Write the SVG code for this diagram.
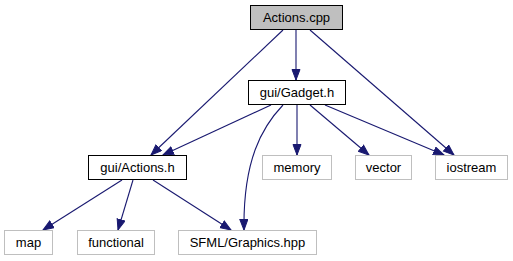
<svg xmlns="http://www.w3.org/2000/svg" width="513" height="261" viewBox="0 0 513 261">
  <style>
    .bg { fill: #ffffff; }
    .node rect { fill: #ffffff; stroke: #000000; stroke-width: 1; }
    .node.root rect { fill: #bfbfbf; }
    .node.ext rect { stroke: #bfbfbf; }
    .node text { font-family: "Liberation Sans", Arial, sans-serif; font-size: 13px; fill: #000000; text-anchor: middle; }
    .edge { fill: none; stroke: #191970; stroke-width: 1.1; marker-end: url(#arrow); }
  </style>
  <defs>
    <marker id="arrow" markerUnits="userSpaceOnUse" markerWidth="13" markerHeight="10" refX="11" refY="4.5" orient="auto">
      <path d="M0.5,0.5 L11,4.5 L0.5,8.5 Z" fill="#191970" stroke="#191970" stroke-width="1"/>
    </marker>
  </defs>
  <rect class="bg" x="0" y="0" width="513" height="261"/>

  <g id="edges">
    <path class="edge" d="M296,30 L296,80"/>
    <path class="edge" d="M283,30 L151,155"/>
    <path class="edge" d="M310,30 L454,155"/>
    <path class="edge" d="M271,105 L163,155"/>
    <path class="edge" d="M297,105 L297,155"/>
    <path class="edge" d="M310,105 L369,155"/>
    <path class="edge" d="M325,105 L444,155"/>
    <path class="edge" d="M283,105 C262,127 243,160 244,230"/>
    <path class="edge" d="M122,180 L43,230"/>
    <path class="edge" d="M133,180 L118,230"/>
    <path class="edge" d="M153,180 L231,230"/>
  </g>

  <g id="node-actions-cpp" class="node root">
    <rect x="250.5" y="5.5" width="92" height="24"/>
    <text x="296.5" y="22">Actions.cpp</text>
  </g>
  <g id="node-gadget-h" class="node">
    <rect x="248.5" y="80.5" width="97" height="24"/>
    <text x="297" y="97">gui/Gadget.h</text>
  </g>
  <g id="node-actions-h" class="node">
    <rect x="88.5" y="155.5" width="98" height="24"/>
    <text x="137.5" y="172">gui/Actions.h</text>
  </g>
  <g id="node-memory" class="node ext">
    <rect x="262.5" y="155.5" width="69" height="24"/>
    <text x="297" y="172">memory</text>
  </g>
  <g id="node-vector" class="node ext">
    <rect x="355.5" y="155.5" width="56" height="24"/>
    <text x="383.5" y="172">vector</text>
  </g>
  <g id="node-iostream" class="node ext">
    <rect x="435.5" y="155.5" width="72" height="24"/>
    <text x="471.5" y="172">iostream</text>
  </g>
  <g id="node-map" class="node ext">
    <rect x="4.5" y="230.5" width="48" height="24"/>
    <text x="28.5" y="247">map</text>
  </g>
  <g id="node-functional" class="node ext">
    <rect x="77.5" y="230.5" width="77" height="24"/>
    <text x="116" y="247">functional</text>
  </g>
  <g id="node-sfml-graphics" class="node ext">
    <rect x="178.5" y="230.5" width="138" height="24"/>
    <text x="247.5" y="247">SFML/Graphics.hpp</text>
  </g>
</svg>
